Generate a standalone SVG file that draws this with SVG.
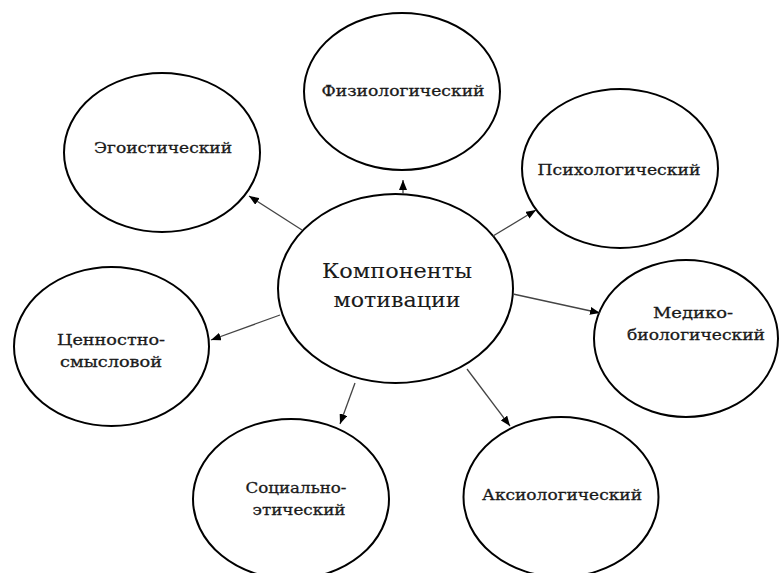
<svg xmlns="http://www.w3.org/2000/svg" width="779" height="573" viewBox="0 0 779 573">
<style>
.node ellipse{fill:#fff;stroke:#000;stroke-width:2}
.node text{font-family:'DejaVu Serif','Noto Serif CJK SC',serif;font-size:15.5px;fill:#1a1a1a;stroke:#1a1a1a;stroke-width:0.3;text-anchor:middle}
#center text{font-size:21px;stroke-width:0.1}
.conn line{stroke:#444;stroke-width:1.3}
</style>
<defs>
<marker id="arr" viewBox="0 0 10 8" refX="10" refY="4" markerWidth="10" markerHeight="8" markerUnits="userSpaceOnUse" orient="auto">
<path d="M0,0 L10,4 L0,8 Z" fill="#000"/>
</marker>
</defs>
<rect width="779" height="573" fill="#fff"/>
<g id="center" class="node">
<ellipse cx="395.5" cy="288.5" rx="117.5" ry="94.5"/>
<text x="397" y="278" textLength="150" lengthAdjust="spacingAndGlyphs">Компоненты</text>
<text x="397" y="307" textLength="127" lengthAdjust="spacingAndGlyphs">мотивации</text>
</g>
<g id="fiziologicheskiy" class="node">
<ellipse cx="402" cy="91.5" rx="98" ry="78.5"/>
<text x="403" y="96" textLength="163" lengthAdjust="spacingAndGlyphs">Физиологический</text>
</g>
<g id="egoisticheskiy" class="node">
<ellipse cx="162" cy="152.5" rx="98" ry="79.5"/>
<text x="163" y="153" textLength="138" lengthAdjust="spacingAndGlyphs">Эгоистический</text>
</g>
<g id="psikhologicheskiy" class="node">
<ellipse cx="620" cy="168.5" rx="98" ry="79.5"/>
<text x="619" y="175" textLength="163" lengthAdjust="spacingAndGlyphs">Психологический</text>
</g>
<g id="mediko" class="node">
<ellipse cx="686" cy="338.5" rx="92" ry="78.5"/>
<text x="693" y="318" textLength="80" lengthAdjust="spacingAndGlyphs">Медико-</text>
<text x="696" y="340" textLength="138" lengthAdjust="spacingAndGlyphs">биологический</text>
</g>
<g id="aksiologicheskiy" class="node">
<ellipse cx="561" cy="497" rx="97.5" ry="80"/>
<text x="562" y="500" textLength="160" lengthAdjust="spacingAndGlyphs">Аксиологический</text>
</g>
<g id="sotsialno" class="node">
<ellipse cx="291" cy="499" rx="98" ry="80"/>
<text x="296" y="493" textLength="101" lengthAdjust="spacingAndGlyphs">Социально-</text>
<text x="299" y="515" textLength="93" lengthAdjust="spacingAndGlyphs">этический</text>
</g>
<g id="tsennostno" class="node">
<ellipse cx="111.5" cy="346.5" rx="97.5" ry="79.5"/>
<text x="111" y="345" textLength="108" lengthAdjust="spacingAndGlyphs">Ценностно-</text>
<text x="111" y="367" textLength="102" lengthAdjust="spacingAndGlyphs">смысловой</text>
</g>
<g id="connectors" class="conn">
<line x1="302" y1="230" x2="249" y2="196" marker-end="url(#arr)"/>
<line x1="403" y1="194" x2="403" y2="180" marker-end="url(#arr)"/>
<line x1="493" y1="236" x2="536" y2="210" marker-end="url(#arr)"/>
<line x1="513" y1="294" x2="600" y2="313" marker-end="url(#arr)"/>
<line x1="467" y1="369" x2="510" y2="426" marker-end="url(#arr)"/>
<line x1="355" y1="383" x2="340" y2="424" marker-end="url(#arr)"/>
<line x1="280" y1="315" x2="211" y2="340" marker-end="url(#arr)"/>
</g>
</svg>
